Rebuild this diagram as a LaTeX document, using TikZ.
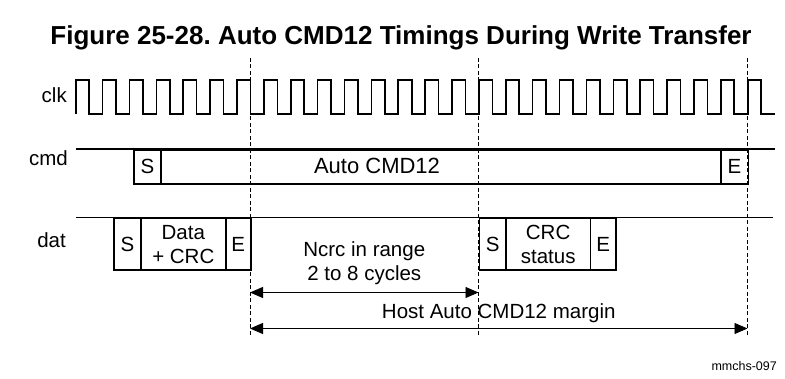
\documentclass[tikz,border=0pt]{standalone}
\usepackage{fontspec}
\setmainfont{Liberation Sans}
\usetikzlibrary{arrows.meta}
\begin{document}
\frenchspacing
\begin{tikzpicture}[x=1pt,y=-1pt,
  wave/.style={line width=1.6pt, line join=miter},
  cell/.style={draw, line width=1.6pt, inner sep=0pt, anchor=north west,
    font=\fontsize{20.5}{23.5}\selectfont, align=center},
  lbl/.style={font=\fontsize{20.5}{23.5}\selectfont, inner sep=0pt, align=center},
  guide/.style={line width=0.8pt, dash pattern=on 4pt off 2.5pt},
  dimline/.style={line width=0.9pt, {Triangle[length=13pt,width=11pt]}-{Triangle[length=13pt,width=11pt]}}
]
\useasboundingbox (0,0) rectangle (785,379);

% title
\node[font=\fontsize{26}{29}\selectfont\bfseries, inner sep=0pt] (title) at (401,38)
  {Figure 25-28. Auto CMD12 Timings During Write Transfer};

% signal names
\node[lbl, anchor=east] (lclk) at (67,95) {clk};
\node[lbl, anchor=east] (lcmd) at (68,158) {cmd};
\node[lbl, anchor=east] (ldat) at (66,240) {dat};

% guide lines
\coordinate (g1t) at (250,58);   \coordinate (g1b) at (250,336);
\coordinate (g2t) at (478.5,58); \coordinate (g2b) at (478.5,336);
\coordinate (g3t) at (747.5,58); \coordinate (g3b) at (747.5,336);
\draw[guide] (g1t) -- (g1b);
\draw[guide] (g2t) -- (g2b);
\draw[guide] (g3t) -- (g3b);

% clock
\draw[wave] (75.7,114) \foreach \k in {0,...,25} { -- ++(0,-34) -- ++(13.44,0) -- ++(0,34) -- ++(13.44,0) };

% cmd line
\coordinate (cmdA) at (75.5,149);
\coordinate (cmdB) at (775,149);
\draw[wave] (cmdA) -- (cmdB);
\node[cell, minimum width=26.7pt, minimum height=34pt] (cS) at (133.3,149) {S};
\node[cell, minimum width=560pt, minimum height=34pt] (cBody) at (160,149) {};
\node[cell, minimum width=27.5pt, minimum height=34pt] (cE) at (720,149) {E};
\node[lbl, font=\fontsize{22}{24}\selectfont] (cTxt) at (377,166) {Auto CMD12};

% dat line
\coordinate (datA) at (75.5,217.5);
\coordinate (datB) at (773,217.5);
\draw[wave] (datA) -- (datB);
\node[cell, minimum width=26.7pt, minimum height=52pt] (dS1) at (113.3,217.5) {S};
\node[cell, minimum width=85pt, minimum height=52pt] (dD) at (140,217.5) {Data\\+ CRC};
\node[cell, minimum width=25pt, minimum height=52pt] (dE1) at (225,217.5) {E};
\node[cell, minimum width=26.7pt, minimum height=52pt] (dS2) at (478.5,217.5) {S};
\node[cell, minimum width=84.3pt, minimum height=52pt] (dC) at (505.2,217.5) {CRC\\status};
\node[cell, minimum width=25.7pt, minimum height=52pt] (dE2) at (589.5,217.5) {E};

% dimensions
\coordinate (n1) at (250,292.5);
\coordinate (n2) at (478.5,292.5);
\draw[dimline] (n1) -- (n2);
\node[lbl] (ntxt) at (364.25,263) {Ncrc in range\\2 to 8 cycles};

\coordinate (h1) at (250,328.5);
\coordinate (h2) at (747.5,328.5);
\draw[dimline] (h1) -- (h2);
\node[lbl] (htxt) at (498.75,313) {Host Auto CMD12 margin};

\node[font=\fontsize{12.5}{14}\selectfont, anchor=east, inner sep=0pt] (fig) at (777,366) {mmchs-097};
\end{tikzpicture}
\end{document}
